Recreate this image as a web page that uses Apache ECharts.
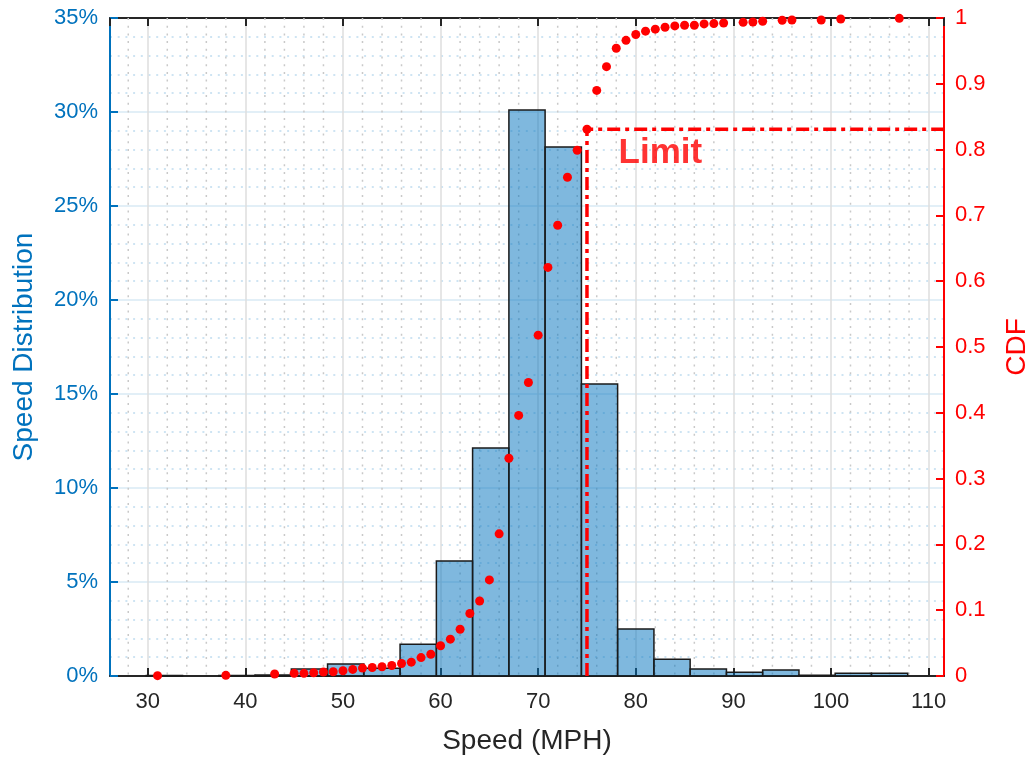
<!DOCTYPE html>
<html><head><meta charset="utf-8">
<script src="https://cdn.jsdelivr.net/npm/echarts@6/dist/echarts.min.js"></script>
<style>html,body{margin:0;padding:0;background:#fff}#c{width:1033px;height:759px}</style>
</head><body><div id="c"></div>
<script>
// Histogram bin edges (MPH) and bin heights (% of vehicles)
const binEdges = [26.13, 29.85, 33.56, 37.28, 40.99, 44.71, 48.42, 52.14, 55.85, 59.57, 63.28, 67.00, 70.71, 74.43, 78.14, 81.86, 85.57, 89.29, 93.00, 96.72, 100.43, 104.15, 107.86, 111.58];
const binPercent = [0, 0.03, 0, 0.03, 0.05, 0.37, 0.64, 0.41, 1.69, 6.12, 12.13, 30.1, 28.14, 15.53, 2.5, 0.89, 0.37, 0.2, 0.32, 0.04, 0.14, 0.14, 0];
// Empirical CDF points
const cdfSpeed = [31, 38, 43, 45, 46, 47, 48, 49, 50, 51, 52, 53, 54, 55, 56, 57, 58, 59, 60, 61, 62, 63, 64, 65, 66, 67, 68, 69, 70, 71, 72, 73, 74, 75, 76, 77, 78, 79, 80, 81, 82, 83, 84, 85, 86, 87, 88, 89, 91, 92, 93, 95, 96, 99, 101, 107];
const cdfValue = [0.0005, 0.001, 0.003, 0.004, 0.004, 0.005, 0.006, 0.0065, 0.008, 0.010, 0.012, 0.013, 0.014, 0.016, 0.019, 0.021, 0.028, 0.033, 0.046, 0.056, 0.071, 0.095, 0.114, 0.146, 0.216, 0.331, 0.396, 0.446, 0.518, 0.621, 0.685, 0.758, 0.799, 0.831, 0.890, 0.926, 0.954, 0.966, 0.975, 0.980, 0.983, 0.986, 0.988, 0.989, 0.989, 0.991, 0.9915, 0.9924, 0.9934, 0.994, 0.995, 0.9966, 0.997, 0.997, 0.9985, 0.9995];
// Speed limit marker
const limitSpeed = 75;
const limitCdf = 0.831;
const limitLabel = 'Limit';
const limitLabelPos = [78.19, 0.794];

const FONT = '"Liberation Sans", Arial, Helvetica, sans-serif';
const BLUE = '#0072BD', RED = '#FF0000', DARK = '#262626';
const xMin = binEdges[0], xMax = binEdges[binEdges.length - 1];
const minorX = [];
for (let v = 28; v < xMax; v += 2) { if (v % 10 !== 0) minorX.push([v, 0]); }

const chart = echarts.init(document.getElementById('c'), null, {renderer: 'canvas'});
const xCommon = {
  type: 'value', min: xMin, max: xMax, splitNumber: 8
};
chart.setOption({
  animation: false,
  backgroundColor: '#fff',
  grid: {left: 110, right: 89, top: 18, bottom: 83, containLabel: false, outerBoundsMode: 'none'},
  xAxis: [
    Object.assign({}, xCommon, {
      position: 'bottom',
      axisLine: {show: true, onZero: false, lineStyle: {color: DARK, width: 2}},
      axisTick: {show: true, inside: true, length: 8, lineStyle: {color: DARK, width: 2}},
      axisLabel: {color: DARK, fontSize: 22, fontFamily: FONT, margin: 15, showMinLabel: false, showMaxLabel: false},
      splitLine: {show: true, lineStyle: {color: '#dedede', width: 1.5}},
      name: 'Speed (MPH)', nameLocation: 'middle', nameGap: 51,
      nameTextStyle: {color: DARK, fontSize: 28, fontFamily: FONT}
    }),
    Object.assign({}, xCommon, {
      position: 'top',
      axisLine: {show: true, onZero: false, lineStyle: {color: DARK, width: 2}},
      axisTick: {show: true, inside: true, length: 8, lineStyle: {color: DARK, width: 2}},
      axisLabel: {show: false},
      splitLine: {show: false}
    })
  ],
  yAxis: [
    {
      type: 'value', position: 'left', min: 0, max: 35, interval: 5,
      axisLine: {show: true, lineStyle: {color: BLUE, width: 2}},
      axisTick: {show: true, inside: true, length: 8, lineStyle: {color: BLUE, width: 2}},
      axisLabel: {color: BLUE, fontSize: 22, fontFamily: FONT, margin: 12, formatter: '{value}%'},
      splitLine: {show: true, lineStyle: {color: '#d9eaf5', width: 1.5}},
      minorTick: {show: false, splitNumber: 5},
      minorSplitLine: {show: true, lineStyle: {color: '#bfdcef', width: 1.5, type: [2, 5.7]}},
      name: 'Speed Distribution', nameLocation: 'middle', nameGap: 72,
      nameTextStyle: {color: BLUE, fontSize: 28, fontFamily: FONT}
    },
    {
      type: 'value', position: 'right', min: 0, max: 1, interval: 0.1,
      axisLine: {show: true, lineStyle: {color: RED, width: 2}},
      axisTick: {show: true, inside: true, length: 8, lineStyle: {color: RED, width: 2}},
      axisLabel: {color: RED, fontSize: 22, fontFamily: FONT, margin: 11},
      splitLine: {show: false},
      name: 'CDF', nameLocation: 'middle', nameGap: 59,
      nameTextStyle: {color: RED, fontSize: 28, fontFamily: FONT}
    }
  ],
  series: [
    {
      type: 'custom', name: 'minorGridX', silent: true, z: 1,
      xAxisIndex: 0, yAxisIndex: 0,
      data: minorX,
      encode: {x: 0, y: 1},
      renderItem: function (params, api) {
        const x = api.coord([api.value(0), 0])[0];
        const cs = params.coordSys;
        return {type: 'line', shape: {x1: x, y1: cs.y, x2: x, y2: cs.y + cs.height},
          style: {stroke: '#c9c9c9', lineWidth: 1.5, lineDash: [2, 5.7]}};
      }
    },
    {
      type: 'custom', name: 'Histogram', z: 3,
      xAxisIndex: 0, yAxisIndex: 0,
      data: binPercent.map((p, i) => [binEdges[i], binEdges[i + 1], p]),
      encode: {x: [0, 1], y: 2},
      renderItem: function (params, api) {
        const h = api.value(2);
        if (!(h > 0)) return null;
        const p0 = api.coord([api.value(0), h]);
        const p1 = api.coord([api.value(1), 0]);
        return {type: 'rect',
          shape: {x: p0[0], y: p0[1], width: p1[0] - p0[0], height: p1[1] - p0[1]},
          style: {fill: 'rgba(0,114,189,0.5)', stroke: '#1a1a1a', lineWidth: 1.5}};
      }
    },
    {
      type: 'line', name: 'Limit', xAxisIndex: 0, yAxisIndex: 1, z: 4,
      data: [[limitSpeed, 0], [limitSpeed, limitCdf], [xMax, limitCdf]],
      symbol: 'none', silent: true,
      lineStyle: {color: RED, width: 3.5, type: [13, 5, 4, 5]}
    },
    {
      type: 'scatter', name: 'CDF', xAxisIndex: 0, yAxisIndex: 1, z: 5,
      data: cdfSpeed.map((s, i) => [s, cdfValue[i]]),
      symbol: 'circle', symbolSize: 9,
      itemStyle: {color: RED, opacity: 1}
    },
    {
      type: 'scatter', name: 'LimitLabel', xAxisIndex: 0, yAxisIndex: 1, z: 6,
      data: [limitLabelPos], symbolSize: 1, silent: true,
      itemStyle: {color: 'rgba(0,0,0,0)'},
      label: {show: true, position: 'right', distance: 0, formatter: limitLabel,
        color: RED, fontSize: 35, fontWeight: 'bold', fontFamily: FONT}
    }
  ]
});
</script>
</body></html>
